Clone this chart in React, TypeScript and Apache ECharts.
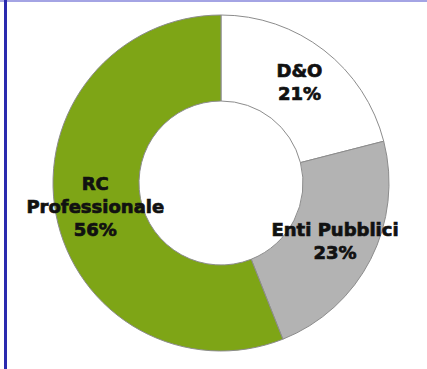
import React, { useEffect, useRef } from "react";
import * as echarts from "echarts";

const categories = ["D&O", "Enti Pubblici", "RC Professionale"];
const labelNames = ["D&O", "Enti Pubblici", "RC\nProfessionale"];
const values = [21, 23, 56];
const colors = ["#ffffff", "#b3b3b3", "#7ea516"];

export default function App() {
  const ref = useRef<HTMLDivElement>(null);
  useEffect(() => {
    document.body.style.margin = "0";
    const chart = echarts.init(ref.current!, null, { renderer: "svg" });
    chart.setOption({
      animation: false,
      backgroundColor: "#ffffff",
      graphic: [
        { type: "rect", shape: { x: 0, y: 0, width: 427, height: 2 }, style: { fill: "#a4a4e4" } },
        { type: "rect", shape: { x: 4, y: 0, width: 3, height: 369 }, style: { fill: "#2a2aae" } },
      ],
      series: [
        {
          type: "pie",
          center: [221, 183],
          radius: [82, 168],
          startAngle: 90,
          clockwise: true,
          avoidLabelOverlap: false,
          data: categories.map((c, i) => ({
            name: c,
            value: values[i],
            itemStyle: { color: colors[i] },
            label: { formatter: labelNames[i] + "\n" + values[i] + "%" },
          })),
          itemStyle: { borderColor: "#8c8c8c", borderWidth: 1 },
          label: {
            show: true,
            position: "inside",
            color: "#111111",
            fontFamily: "DejaVu Sans",
            fontWeight: "bold",
            fontSize: 18,
            lineHeight: 23,
            align: "center",
            textBorderColor: "#111111",
            textBorderWidth: 0.7,
          },
          labelLine: { show: false },
          emphasis: { disabled: true },
        },
      ],
    });
    return () => chart.dispose();
  }, []);
  return <div ref={ref} style={{ position: "absolute", left: 0, top: 0, width: 427, height: 369 }} />;
}
